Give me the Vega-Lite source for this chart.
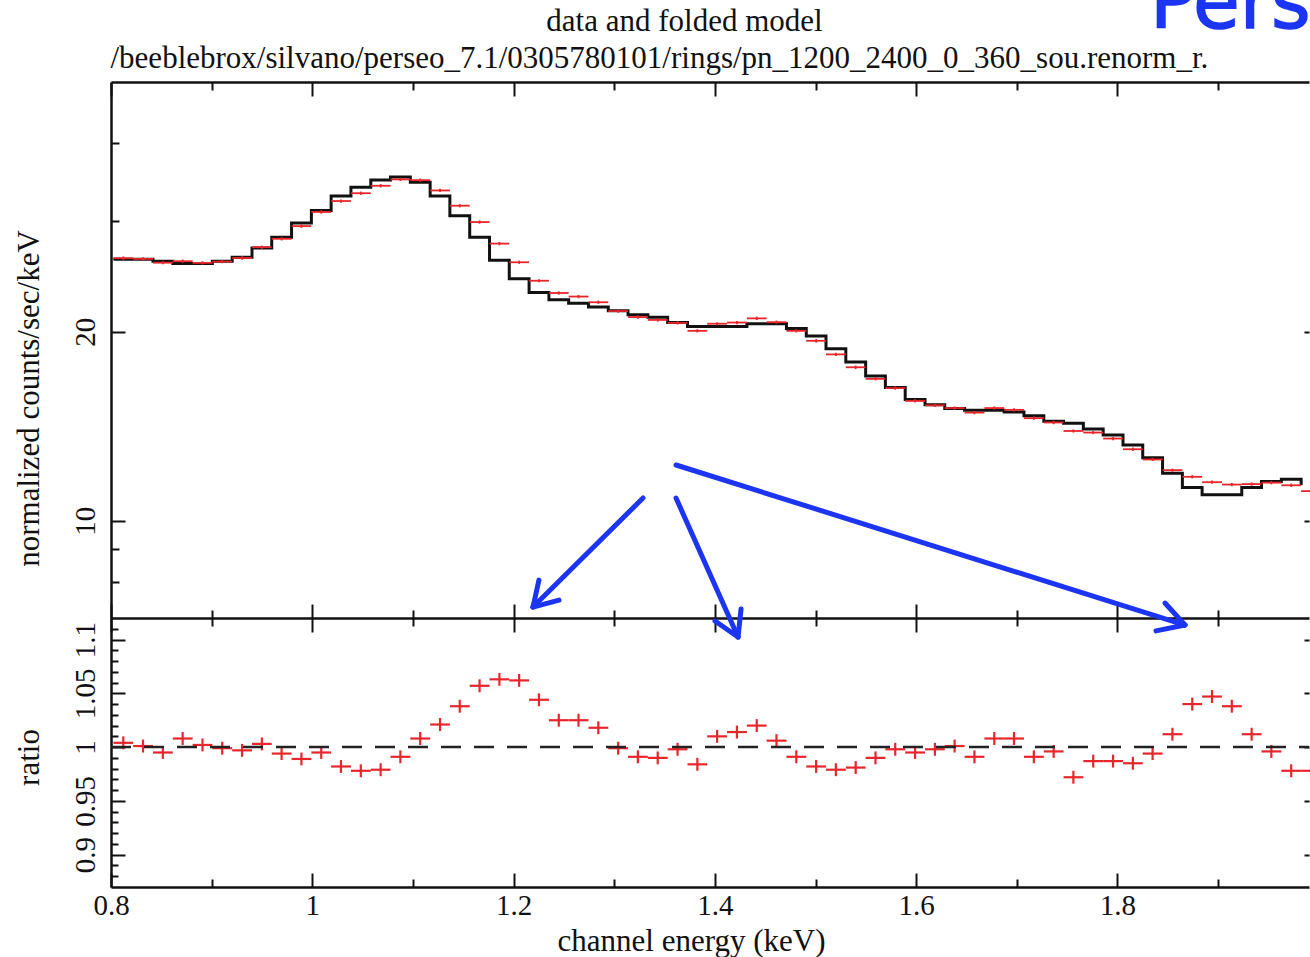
{
  "$schema": "https://vega.github.io/schema/vega-lite/v6.json",
  "width": 1198,
  "height": 805,
  "autosize": {"type": "none"},
  "padding": {"left": 111, "top": 82, "right": 1, "bottom": 70},
  "config": {
    "font": "Liberation Serif",
    "view": {"stroke": null},
    "axis": {
      "grid": false,
      "domainColor": "#111",
      "domainWidth": 2.5,
      "tickColor": "#111",
      "tickWidth": 2,
      "labelColor": "#111",
      "titleColor": "#111",
      "labelFont": "Liberation Serif",
      "titleFont": "Liberation Serif",
      "titleFontWeight": "normal",
      "labelOverlap": false,
      "labelFlush": false
    }
  },
  "datasets": {
    "bins": [
      {"lo":0.8024,"hi":0.8220,"e":0.8122,"m":26.1,"d":26.20,"dl":26.04,"dh":26.36,"r":1.004,"rl":0.998,"rh":1.010},
      {"lo":0.8220,"hi":0.8417,"e":0.8318,"m":26.1,"d":26.13,"dl":25.97,"dh":26.29,"r":1.001,"rl":0.995,"rh":1.007},
      {"lo":0.8417,"hi":0.8614,"e":0.8515,"m":25.9,"d":25.77,"dl":25.62,"dh":25.92,"r":0.995,"rl":0.989,"rh":1.001},
      {"lo":0.8614,"hi":0.8811,"e":0.8712,"m":25.7,"d":25.91,"dl":25.75,"dh":26.07,"r":1.008,"rl":1.002,"rh":1.014},
      {"lo":0.8811,"hi":0.9007,"e":0.8909,"m":25.7,"d":25.75,"dl":25.60,"dh":25.90,"r":1.002,"rl":0.996,"rh":1.008},
      {"lo":0.9007,"hi":0.9204,"e":0.9105,"m":25.9,"d":25.87,"dl":25.72,"dh":26.03,"r":0.999,"rl":0.993,"rh":1.005},
      {"lo":0.9204,"hi":0.9401,"e":0.9302,"m":26.3,"d":26.22,"dl":26.06,"dh":26.38,"r":0.997,"rl":0.991,"rh":1.003},
      {"lo":0.9401,"hi":0.9597,"e":0.9499,"m":27.2,"d":27.28,"dl":27.12,"dh":27.44,"r":1.003,"rl":0.997,"rh":1.009},
      {"lo":0.9597,"hi":0.9794,"e":0.9695,"m":28.3,"d":28.13,"dl":27.96,"dh":28.30,"r":0.994,"rl":0.988,"rh":1.000},
      {"lo":0.9794,"hi":0.9991,"e":0.9892,"m":29.8,"d":29.47,"dl":29.29,"dh":29.65,"r":0.989,"rl":0.983,"rh":0.995},
      {"lo":0.9991,"hi":1.0187,"e":1.0089,"m":31.2,"d":31.04,"dl":30.85,"dh":31.23,"r":0.995,"rl":0.989,"rh":1.001},
      {"lo":1.0187,"hi":1.0384,"e":1.0285,"m":32.9,"d":32.31,"dl":32.12,"dh":32.50,"r":0.982,"rl":0.976,"rh":0.988},
      {"lo":1.0384,"hi":1.0581,"e":1.0482,"m":34.0,"d":33.25,"dl":33.05,"dh":33.45,"r":0.978,"rl":0.972,"rh":0.984},
      {"lo":1.0581,"hi":1.0777,"e":1.0679,"m":34.9,"d":34.17,"dl":33.96,"dh":34.38,"r":0.979,"rl":0.973,"rh":0.985},
      {"lo":1.0777,"hi":1.0974,"e":1.0875,"m":35.3,"d":34.98,"dl":34.77,"dh":35.19,"r":0.991,"rl":0.985,"rh":0.997},
      {"lo":1.0974,"hi":1.1171,"e":1.1072,"m":34.6,"d":34.88,"dl":34.67,"dh":35.09,"r":1.008,"rl":1.002,"rh":1.014},
      {"lo":1.1171,"hi":1.1367,"e":1.1269,"m":32.9,"d":33.59,"dl":33.39,"dh":33.79,"r":1.021,"rl":1.015,"rh":1.027},
      {"lo":1.1367,"hi":1.1564,"e":1.1465,"m":30.6,"d":31.76,"dl":31.57,"dh":31.95,"r":1.038,"rl":1.032,"rh":1.044},
      {"lo":1.1564,"hi":1.1761,"e":1.1662,"m":28.3,"d":29.91,"dl":29.73,"dh":30.09,"r":1.057,"rl":1.051,"rh":1.063},
      {"lo":1.1761,"hi":1.1957,"e":1.1859,"m":26.0,"d":27.64,"dl":27.47,"dh":27.81,"r":1.063,"rl":1.057,"rh":1.069},
      {"lo":1.1957,"hi":1.2154,"e":1.2055,"m":24.3,"d":25.81,"dl":25.66,"dh":25.96,"r":1.062,"rl":1.056,"rh":1.068},
      {"lo":1.2154,"hi":1.2351,"e":1.2252,"m":23.1,"d":24.12,"dl":23.98,"dh":24.26,"r":1.044,"rl":1.038,"rh":1.050},
      {"lo":1.2351,"hi":1.2547,"e":1.2449,"m":22.5,"d":23.06,"dl":22.92,"dh":23.20,"r":1.025,"rl":1.019,"rh":1.031},
      {"lo":1.2547,"hi":1.2744,"e":1.2645,"m":22.2,"d":22.76,"dl":22.62,"dh":22.90,"r":1.025,"rl":1.019,"rh":1.031},
      {"lo":1.2744,"hi":1.2941,"e":1.2842,"m":21.9,"d":22.29,"dl":22.16,"dh":22.42,"r":1.018,"rl":1.012,"rh":1.024},
      {"lo":1.2941,"hi":1.3137,"e":1.3039,"m":21.6,"d":21.58,"dl":21.45,"dh":21.71,"r":0.999,"rl":0.993,"rh":1.005},
      {"lo":1.3137,"hi":1.3334,"e":1.3235,"m":21.3,"d":21.11,"dl":20.98,"dh":21.24,"r":0.991,"rl":0.985,"rh":0.997},
      {"lo":1.3334,"hi":1.3531,"e":1.3432,"m":21.1,"d":20.89,"dl":20.76,"dh":21.02,"r":0.990,"rl":0.984,"rh":0.996},
      {"lo":1.3531,"hi":1.3728,"e":1.3629,"m":20.7,"d":20.66,"dl":20.54,"dh":20.78,"r":0.998,"rl":0.992,"rh":1.004},
      {"lo":1.3728,"hi":1.3924,"e":1.3826,"m":20.4,"d":20.07,"dl":19.95,"dh":20.19,"r":0.984,"rl":0.978,"rh":0.990},
      {"lo":1.3924,"hi":1.4121,"e":1.4022,"m":20.4,"d":20.60,"dl":20.48,"dh":20.72,"r":1.010,"rl":1.004,"rh":1.016},
      {"lo":1.4121,"hi":1.4318,"e":1.4219,"m":20.4,"d":20.69,"dl":20.57,"dh":20.81,"r":1.014,"rl":1.008,"rh":1.020},
      {"lo":1.4318,"hi":1.4514,"e":1.4416,"m":20.6,"d":21.01,"dl":20.88,"dh":21.14,"r":1.020,"rl":1.014,"rh":1.026},
      {"lo":1.4514,"hi":1.4711,"e":1.4612,"m":20.6,"d":20.72,"dl":20.60,"dh":20.84,"r":1.006,"rl":1.000,"rh":1.012},
      {"lo":1.4711,"hi":1.4908,"e":1.4809,"m":20.25,"d":20.07,"dl":19.95,"dh":20.19,"r":0.991,"rl":0.985,"rh":0.997},
      {"lo":1.4908,"hi":1.5104,"e":1.5006,"m":19.7,"d":19.35,"dl":19.23,"dh":19.47,"r":0.982,"rl":0.976,"rh":0.988},
      {"lo":1.5104,"hi":1.5301,"e":1.5202,"m":18.8,"d":18.41,"dl":18.30,"dh":18.52,"r":0.979,"rl":0.973,"rh":0.985},
      {"lo":1.5301,"hi":1.5498,"e":1.5399,"m":17.9,"d":17.56,"dl":17.45,"dh":17.67,"r":0.981,"rl":0.975,"rh":0.987},
      {"lo":1.5498,"hi":1.5694,"e":1.5596,"m":17.0,"d":16.83,"dl":16.73,"dh":16.93,"r":0.990,"rl":0.984,"rh":0.996},
      {"lo":1.5694,"hi":1.5891,"e":1.5792,"m":16.3,"d":16.27,"dl":16.17,"dh":16.37,"r":0.998,"rl":0.992,"rh":1.004},
      {"lo":1.5891,"hi":1.6088,"e":1.5989,"m":15.6,"d":15.52,"dl":15.43,"dh":15.61,"r":0.995,"rl":0.989,"rh":1.001},
      {"lo":1.6088,"hi":1.6284,"e":1.6186,"m":15.3,"d":15.27,"dl":15.18,"dh":15.36,"r":0.998,"rl":0.992,"rh":1.004},
      {"lo":1.6284,"hi":1.6481,"e":1.6382,"m":15.1,"d":15.12,"dl":15.03,"dh":15.21,"r":1.001,"rl":0.995,"rh":1.007},
      {"lo":1.6481,"hi":1.6678,"e":1.6579,"m":15.0,"d":14.87,"dl":14.78,"dh":14.96,"r":0.991,"rl":0.985,"rh":0.997},
      {"lo":1.6678,"hi":1.6874,"e":1.6776,"m":15.0,"d":15.12,"dl":15.03,"dh":15.21,"r":1.008,"rl":1.002,"rh":1.014},
      {"lo":1.6874,"hi":1.7071,"e":1.6972,"m":14.9,"d":15.02,"dl":14.93,"dh":15.11,"r":1.008,"rl":1.002,"rh":1.014},
      {"lo":1.7071,"hi":1.7268,"e":1.7169,"m":14.7,"d":14.57,"dl":14.48,"dh":14.66,"r":0.991,"rl":0.985,"rh":0.997},
      {"lo":1.7268,"hi":1.7464,"e":1.7366,"m":14.4,"d":14.34,"dl":14.25,"dh":14.43,"r":0.996,"rl":0.990,"rh":1.002},
      {"lo":1.7464,"hi":1.7661,"e":1.7562,"m":14.3,"d":13.90,"dl":13.82,"dh":13.98,"r":0.972,"rl":0.966,"rh":0.978},
      {"lo":1.7661,"hi":1.7858,"e":1.7759,"m":14.0,"d":13.82,"dl":13.74,"dh":13.90,"r":0.987,"rl":0.981,"rh":0.993},
      {"lo":1.7858,"hi":1.8055,"e":1.7956,"m":13.7,"d":13.52,"dl":13.44,"dh":13.60,"r":0.987,"rl":0.981,"rh":0.993},
      {"lo":1.8055,"hi":1.8251,"e":1.8153,"m":13.2,"d":13.00,"dl":12.92,"dh":13.08,"r":0.985,"rl":0.979,"rh":0.991},
      {"lo":1.8251,"hi":1.8448,"e":1.8349,"m":12.6,"d":12.52,"dl":12.45,"dh":12.60,"r":0.994,"rl":0.988,"rh":1.000},
      {"lo":1.8448,"hi":1.8645,"e":1.8546,"m":11.9,"d":12.04,"dl":11.97,"dh":12.11,"r":1.012,"rl":1.006,"rh":1.018},
      {"lo":1.8645,"hi":1.8841,"e":1.8743,"m":11.3,"d":11.75,"dl":11.68,"dh":11.82,"r":1.040,"rl":1.034,"rh":1.046},
      {"lo":1.8841,"hi":1.9038,"e":1.8939,"m":11.0,"d":11.52,"dl":11.45,"dh":11.59,"r":1.047,"rl":1.041,"rh":1.053},
      {"lo":1.9038,"hi":1.9235,"e":1.9136,"m":11.0,"d":11.42,"dl":11.35,"dh":11.49,"r":1.038,"rl":1.032,"rh":1.044},
      {"lo":1.9235,"hi":1.9431,"e":1.9333,"m":11.3,"d":11.44,"dl":11.37,"dh":11.51,"r":1.012,"rl":1.006,"rh":1.018},
      {"lo":1.9431,"hi":1.9628,"e":1.9529,"m":11.55,"d":11.50,"dl":11.43,"dh":11.57,"r":0.996,"rl":0.990,"rh":1.002},
      {"lo":1.9628,"hi":1.9825,"e":1.9726,"m":11.65,"d":11.39,"dl":11.32,"dh":11.46,"r":0.978,"rl":0.972,"rh":0.984},
      {"lo":1.9825,"hi":2.0021,"e":1.9923,"m":11.4,"d":11.15,"dl":11.08,"dh":11.22,"r":0.978,"rl":0.972,"rh":0.984}
    ],
    "arrows": [
      {"x":1.3286,"y":10.87,"x2":1.2193,"y2":7.287},
      {"x":1.2193,"y":7.287,"x2":1.2451,"y2":7.476},
      {"x":1.2193,"y":7.287,"x2":1.2252,"y2":8.045},
      {"x":1.3614,"y":10.87,"x2":1.4230,"y2":6.529},
      {"x":1.4230,"y":6.529,"x2":1.4260,"y2":7.234},
      {"x":1.4230,"y":6.529,"x2":1.4001,"y2":6.923},
      {"x":1.3614,"y":12.27,"x2":1.8671,"y2":6.822},
      {"x":1.8671,"y":6.822,"x2":1.8472,"y2":7.395},
      {"x":1.8671,"y":6.822,"x2":1.8383,"y2":6.676}
    ]
  },
  "layer": [
    {
      "data": {"name": "bins"},
      "mark": {"type": "line", "interpolate": "step-after", "color": "#111", "strokeWidth": 3},
      "encoding": {
        "x": {"field": "lo", "type": "quantitative", "scale": {"domain": [0.8, 1.9903], "nice": false, "zero": false},
          "axis": {"orient": "bottom", "values": [0.8, 1, 1.2, 1.4, 1.6, 1.8], "tickSize": -14, "labelPadding": 18, "labelFontSize": 29, "labelBaseline": "top", "format": "~g", "domain": true,
            "title": "channel energy (keV)", "titleFontSize": 31, "titleX": 580, "titleY": 63, "titleAlign": "center", "titleBaseline": "alphabetic"}},
        "y": {"field": "m", "type": "quantitative", "scale": {"type": "log", "domain": [7, 50], "range": [536, 0], "nice": false},
          "axis": {"orient": "left", "values": [10, 20], "tickSize": -14, "format": "~g", "labelAngle": -90, "labelAlign": "center", "labelBaseline": "alphabetic", "labelPadding": 31, "labelFontSize": 29, "domain": true,
            "title": "normalized counts/sec/keV", "titleFontSize": 31, "titleAngle": 270, "titleX": -73, "titleY": 316, "titleAlign": "center", "titleBaseline": "alphabetic"}}
      }
    },
    {
      "data": {"name": "bins"},
      "mark": {"type": "rule", "color": "#e8252b", "strokeWidth": 1.8},
      "encoding": {
        "x": {"field": "lo", "type": "quantitative", "scale": {"domain": [0.8, 1.9903], "nice": false, "zero": false},
          "axis": {"orient": "bottom", "values": [0.9, 1.1, 1.3, 1.5, 1.7, 1.9], "tickSize": -8, "labels": false, "domain": false, "title": null}},
        "x2": {"field": "hi"},
        "y": {"field": "d", "type": "quantitative", "scale": {"type": "log", "domain": [7, 50], "range": [536, 0], "nice": false},
          "axis": {"orient": "left", "values": [8, 9, 30, 40], "tickSize": -8, "labels": false, "domain": false, "title": null}}
      }
    },
    {
      "data": {"name": "bins"},
      "mark": {"type": "rule", "color": "#e8252b", "strokeWidth": 1.8},
      "encoding": {
        "x": {"field": "e", "type": "quantitative", "scale": {"domain": [0.8, 1.9903], "nice": false, "zero": false},
          "axis": {"orient": "top", "values": [0.8, 1, 1.2, 1.4, 1.6, 1.8], "tickSize": -14, "labels": false, "domain": true,
            "title": "/beeblebrox/silvano/perseo_7.1/0305780101/rings/pn_1200_2400_0_360_sou.renorm_r.", "titleFontSize": 31, "titleX": -1, "titleY": -15, "titleAlign": "left", "titleBaseline": "alphabetic"}},
        "y": {"field": "dl", "type": "quantitative", "scale": {"type": "log", "domain": [7, 50], "range": [536, 0], "nice": false},
          "axis": {"orient": "right", "values": [10, 20], "tickSize": -5, "labels": false, "domain": false, "title": null}},
        "y2": {"field": "dh"}
      }
    },
    {
      "data": {"name": "bins"},
      "mark": {"type": "rule", "color": "#e8252b", "strokeWidth": 2.2},
      "encoding": {
        "x": {"field": "lo", "type": "quantitative", "scale": {"domain": [0.8, 1.9903], "nice": false, "zero": false},
          "axis": {"orient": "top", "values": [0.9, 1.1, 1.3, 1.5, 1.7, 1.9], "tickSize": -8, "labels": false, "domain": false,
            "title": "data and folded model", "titleFontSize": 31, "titleX": 573, "titleY": -52, "titleAlign": "center", "titleBaseline": "alphabetic"}},
        "x2": {"field": "hi"},
        "y": {"field": "r", "type": "quantitative", "scale": {"type": "linear", "domain": [0.87, 1.12], "range": [805, 536], "nice": false, "zero": false},
          "axis": {"orient": "left", "values": [0.9, 0.95, 1, 1.05, 1.1], "tickSize": -14, "format": "~g", "labelAngle": -90, "labelAlign": "center", "labelBaseline": "alphabetic", "labelPadding": 31, "labelFontSize": 29, "domain": true,
            "title": "ratio", "titleFontSize": 31, "titleAngle": 270, "titleX": -73, "titleY": 675, "titleAlign": "center", "titleBaseline": "alphabetic"}}
      }
    },
    {
      "data": {"name": "bins"},
      "mark": {"type": "rule", "color": "#e8252b", "strokeWidth": 2.2},
      "encoding": {
        "x": {"field": "e", "type": "quantitative", "scale": {"domain": [0.8, 1.9903], "nice": false, "zero": false},
          "axis": {"orient": "bottom", "offset": -269, "values": [0.8, 1, 1.2, 1.4, 1.6, 1.8], "tickSize": -14, "labels": false, "domain": true, "title": null}},
        "y": {"field": "rl", "type": "quantitative", "scale": {"type": "linear", "domain": [0.87, 1.12], "range": [805, 536], "nice": false, "zero": false},
          "axis": {"orient": "left", "values": [0.88, 0.89, 0.91, 0.92, 0.93, 0.94, 0.96, 0.97, 0.98, 0.99, 1.01, 1.02, 1.03, 1.04, 1.06, 1.07, 1.08, 1.09, 1.11], "tickSize": -7, "labels": false, "domain": false, "title": null}},
        "y2": {"field": "rh"}
      }
    },
    {
      "data": {"values": [{}]},
      "mark": {"type": "rule", "color": "#222", "strokeWidth": 2.5, "strokeDash": [20, 13]},
      "encoding": {
        "x": {"datum": 0.8, "type": "quantitative", "scale": {"domain": [0.8, 1.9903], "nice": false, "zero": false},
          "axis": {"orient": "bottom", "offset": -269, "values": [0.9, 1.1, 1.3, 1.5, 1.7, 1.9], "tickSize": -8, "labels": false, "domain": false, "title": null}},
        "x2": {"datum": 1.9903},
        "y": {"datum": 1, "type": "quantitative", "scale": {"type": "linear", "domain": [0.87, 1.12], "range": [805, 536], "nice": false, "zero": false},
          "axis": {"orient": "right", "values": [0.9, 0.95, 1, 1.05, 1.1], "tickSize": -5, "labels": false, "domain": false, "title": null}}
      }
    },
    {
      "data": {"name": "arrows"},
      "mark": {"type": "rule", "color": "#1b35f2", "strokeWidth": 5, "strokeCap": "round"},
      "encoding": {
        "x": {"field": "x", "type": "quantitative", "scale": {"domain": [0.8, 1.9903], "nice": false, "zero": false},
          "axis": {"orient": "bottom", "offset": -269, "values": [0.8, 1, 1.2, 1.4, 1.6, 1.8], "tickSize": 14, "labels": false, "domain": false, "title": null}},
        "x2": {"field": "x2"},
        "y": {"field": "y", "type": "quantitative", "scale": {"type": "log", "domain": [7, 50], "range": [536, 0], "nice": false}, "axis": null},
        "y2": {"field": "y2"}
      }
    },
    {
      "data": {"values": [{}]},
      "mark": {"type": "text", "text": "Perseus", "font": "DejaVu Sans", "fontSize": 76, "color": "#1b35f2", "align": "left", "baseline": "alphabetic", "stroke": "#1b35f2", "strokeWidth": 1.5},
      "encoding": {
        "x": {"datum": 1.8323, "type": "quantitative", "scale": {"domain": [0.8, 1.9903], "nice": false, "zero": false},
          "axis": {"orient": "bottom", "offset": -269, "values": [0.9, 1.1, 1.3, 1.5, 1.7, 1.9], "tickSize": 8, "labels": false, "domain": false, "title": null}},
        "y": {"datum": 60.9, "type": "quantitative", "scale": {"type": "log", "domain": [7, 50], "range": [536, 0], "nice": false}, "axis": null}
      }
    }
  ],
  "resolve": {
    "scale": {"y": "independent"},
    "axis": {"x": "independent", "y": "independent"}
  }
}
